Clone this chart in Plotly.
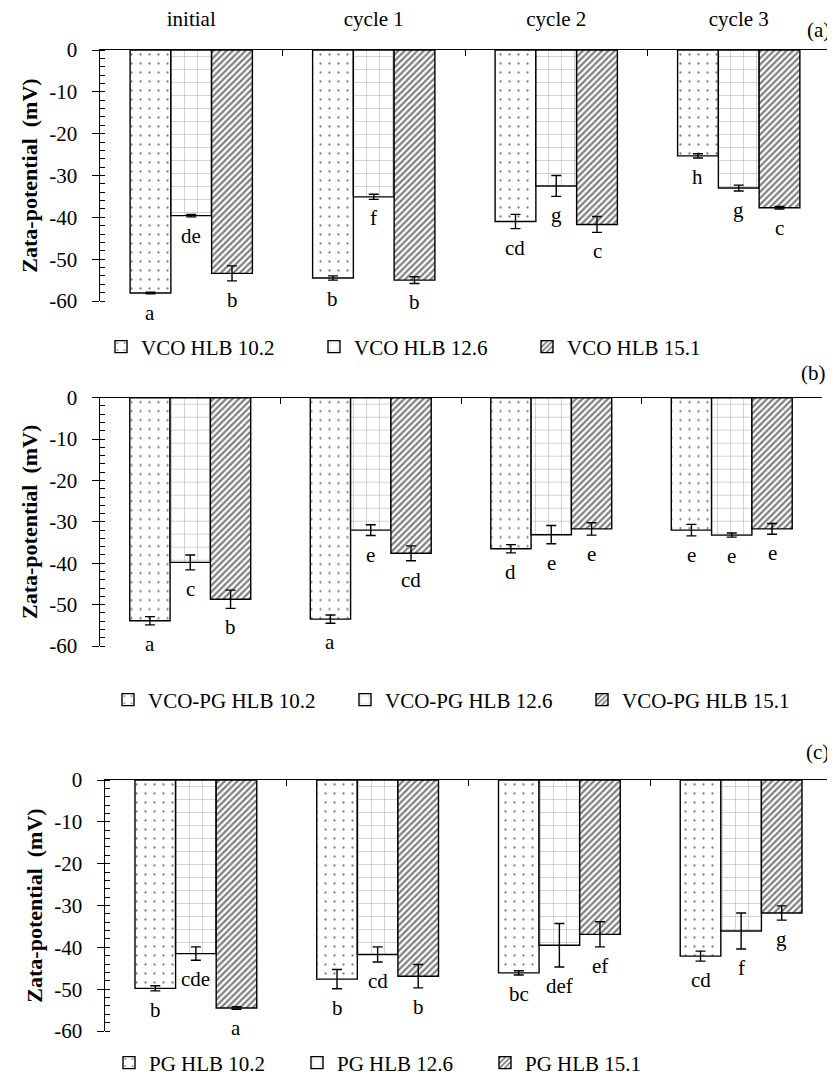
import plotly.graph_objects as go

categories = ["initial", "cycle 1", "cycle 2", "cycle 3"]

# Panel (a) VCO
a_names = ["VCO HLB 10.2", "VCO HLB 12.6", "VCO HLB 15.1"]
a_102 = [-58.1, -54.5, -41.0, -25.3]
a_102_err = [0.2, 0.5, 1.7, 0.5]
a_126 = [-39.6, -35.1, -32.5, -33.0]
a_126_err = [0.3, 0.6, 2.5, 0.7]
a_151 = [-53.4, -55.0, -41.7, -37.7]
a_151_err = [1.8, 0.8, 1.9, 0.3]
a_102_letters = ["a", "b", "cd", "h"]
a_126_letters = ["de", "f", "g", "g"]
a_151_letters = ["b", "b", "c", "c"]

# Panel (b) VCO-PG
b_names = ["VCO-PG HLB 10.2", "VCO-PG HLB 12.6", "VCO-PG HLB 15.1"]
b_102 = [-53.9, -53.5, -36.5, -32.0]
b_102_err = [1.0, 1.0, 1.0, 1.4]
b_126 = [-39.8, -32.0, -33.1, -33.2]
b_126_err = [1.8, 1.3, 2.2, 0.5]
b_151 = [-48.7, -37.6, -31.7, -31.7]
b_151_err = [2.2, 1.8, 1.5, 1.3]
b_102_letters = ["a", "a", "d", "e"]
b_126_letters = ["c", "e", "e", "e"]
b_151_letters = ["b", "cd", "e", "e"]

# Panel (c) PG
c_names = ["PG HLB 10.2", "PG HLB 12.6", "PG HLB 15.1"]
c_102 = [-49.8, -47.6, -46.1, -42.1]
c_102_err = [0.6, 2.3, 0.5, 1.2]
c_126 = [-41.5, -41.7, -39.5, -36.1]
c_126_err = [1.6, 1.8, 5.2, 4.3]
c_151 = [-54.5, -46.9, -36.9, -31.8]
c_151_err = [0.3, 2.8, 3.0, 1.7]
c_102_letters = ["b", "b", "bc", "cd"]
c_126_letters = ["cde", "cd", "def", "f"]
c_151_letters = ["a", "b", "ef", "g"]

y_tickvals = [0, -10, -20, -30, -40, -50, -60]
y_ticktext = ["0", "-10", "-20", "-30", "-40", "-50", "-60"]

FONT = "Liberation Serif"
FS = 21
BARGAP = 0.33
OFF = 8  # page body margin

patterns = [
    dict(shape=".", size=9, solidity=0.05, fgcolor="#000", bgcolor="white"),
    dict(shape="+", size=13, solidity=0.07, fgcolor="#444", bgcolor="white"),
    dict(shape="/", size=4.5, solidity=0.5, fgcolor="#000", bgcolor="white"),
]

panels = [
    (a_names, [a_102, a_126, a_151], [a_102_err, a_126_err, a_151_err],
     [a_102_letters, a_126_letters, a_151_letters]),
    (b_names, [b_102, b_126, b_151], [b_102_err, b_126_err, b_151_err],
     [b_102_letters, b_126_letters, b_151_letters]),
    (c_names, [c_102, c_126, c_151], [c_102_err, c_126_err, c_151_err],
     [c_102_letters, c_126_letters, c_151_letters]),
]

H = 1082.0
Wd = 835.0


def px(v):
    return (v - OFF) / Wd


def py(v):
    return 1 - (v - OFF) / H


xdomains = [[px(100), px(830)], [px(100), px(822)], [px(105), px(832)]]
ydomains = [[py(301), py(50)], [py(646), py(397.7)], [py(1031), py(780)]]
legend_y = [py(347), py(700), py(1063)]
legend_x = [px(101), px(108), px(109)]
entry_w = [168, 192, 143]
label_pos = [(818, 30, "(a)"), (813, 373, "(b)"), (817, 752, "(c)")]

# tick label text with a trailing en space to push labels away from the axis
y_ticktext_shown = [t + "\u2002" for t in y_ticktext]

fig = go.Figure()
annotations = []
bar_w = (1 - BARGAP) / 3

for p, (names, series, errs, letters) in enumerate(panels):
    sfx = "" if p == 0 else str(p + 1)
    lg = "legend" if p == 0 else "legend" + str(p + 1)
    for k in range(3):
        fig.add_trace(go.Bar(
            x=categories, y=series[k], name=names[k],
            xaxis="x" + sfx, yaxis="y" + sfx, legend=lg,
            marker=dict(color="white", pattern=patterns[k],
                        line=dict(color="black", width=1.4)),
            error_y=dict(type="data", array=errs[k], color="black",
                         thickness=1.4, width=5),
        ))
        for i in range(len(categories)):
            annotations.append(dict(
                x=i + (k - 1) * bar_w, y=series[k][i] - errs[k][i],
                xref="x" + sfx, yref="y" + sfx, text=letters[k][i],
                showarrow=False, yanchor="top", yshift=-5,
                font=dict(family=FONT, size=FS, color="black"),
            ))
    fig.update_layout(**{
        "xaxis" + sfx: dict(
            domain=xdomains[p], anchor="y" + sfx, type="category",
            categoryorder="array", categoryarray=categories,
            range=[-0.5, 3.5], side="top", showline=True, linecolor="black",
            linewidth=1.3, ticks="inside", tickson="boundaries", ticklen=6,
            tickcolor="black", tickwidth=1.3, showgrid=False,
            showticklabels=(p == 0), ticklabelstandoff=14,
            tickfont=dict(family=FONT, size=FS, color="black"),
            automargin=False,
        ),
        "yaxis" + sfx: dict(
            domain=ydomains[p], anchor="x" + sfx, range=[-60, 0],
            tickmode="array", tickvals=y_tickvals, ticktext=y_ticktext_shown,
            ticks="outside", ticklen=7, tickwidth=1.3, tickcolor="black",
            minor=dict(dtick=2, ticks="inside", ticklen=5, tickcolor="black",
                       tickwidth=1, showgrid=False),
            showline=True, linecolor="black", linewidth=1.3,
            showgrid=False, zeroline=False,
            tickfont=dict(family=FONT, size=FS, color="black"),
            title=dict(text="<b>Zata-potential  (mV)</b>", standoff=5,
                       font=dict(family=FONT, size=22, color="black")),
            automargin=False,
        ),
        lg: dict(
            orientation="h", x=legend_x[p], y=legend_y[p], xanchor="left",
            yanchor="middle", font=dict(family=FONT, size=FS, color="black"),
            bgcolor="rgba(0,0,0,0)", itemwidth=30, entrywidth=entry_w[p],
            entrywidthmode="pixels", tracegroupgap=0,
            itemclick=False,
        ),
    })

for (lx, ly, t) in label_pos:
    annotations.append(dict(
        x=px(lx), y=py(ly), xref="paper", yref="paper", text=t,
        showarrow=False, xanchor="center", yanchor="middle",
        font=dict(family=FONT, size=FS, color="black"),
    ))

fig.update_layout(
    width=835, height=1082,
    margin=dict(l=0, r=0, t=0, b=0),
    paper_bgcolor="white", plot_bgcolor="white",
    barmode="group", bargap=BARGAP, bargroupgap=0,
    annotations=annotations, showlegend=True,
)

fig.write_html("out.html")
